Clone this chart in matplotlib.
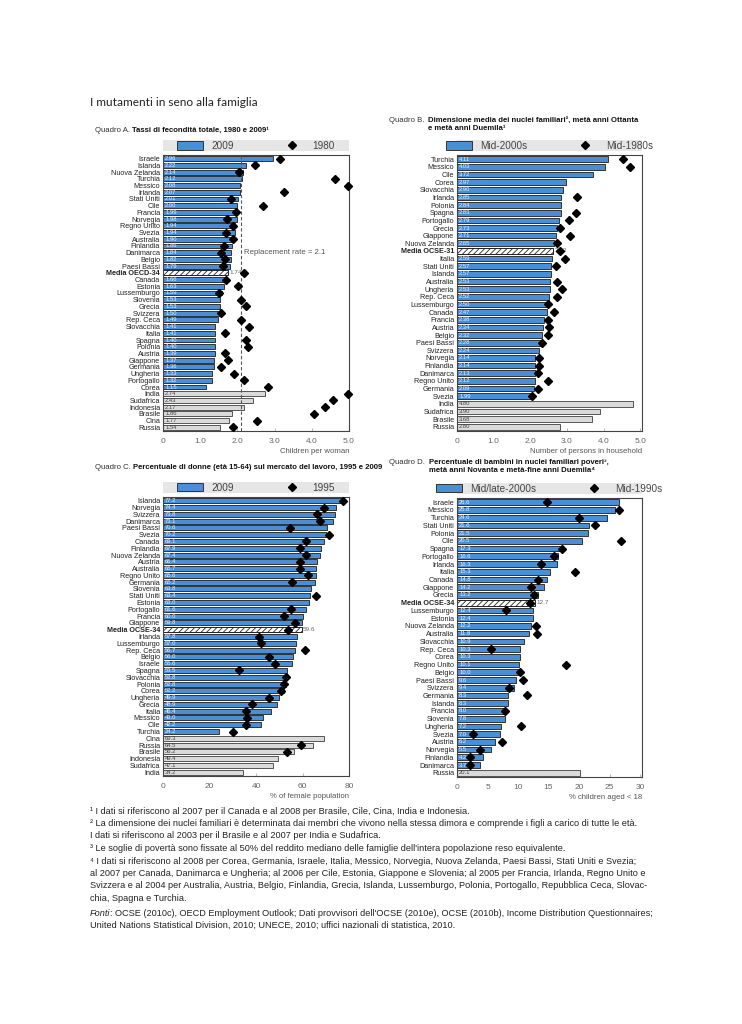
import numpy as np
import matplotlib
matplotlib.use('Agg')
import matplotlib.pyplot as plt
from matplotlib import font_manager as fm
from matplotlib.patches import Patch, Rectangle
from matplotlib.lines import Line2D

names = {f.name for f in fm.fontManager.ttflist}
COND = 'Liberation Sans Narrow' if 'Liberation Sans Narrow' in names else 'Liberation Sans'
plt.rcParams['font.family'] = [COND, 'DejaVu Sans']
plt.rcParams['hatch.linewidth'] = 0.6

# ---------------- Panel A: fertility ----------------
a_countries = ["Israele", "Islanda", "Nuova Zelanda", "Turchia", "Messico", "Irlanda", "Stati Uniti",
               "Cile", "Francia", "Norvegia", "Regno Unito", "Svezia", "Australia", "Finlandia",
               "Danimarca", "Belgio", "Paesi Bassi", "Media OECD-34", "Canada", "Estonia",
               "Lussemburgo", "Slovenia", "Grecia", "Svizzera", "Rep. Ceca", "Slovacchia", "Italia",
               "Spagna", "Polonia", "Austria", "Giappone", "Germania", "Ungheria", "Portogallo",
               "Corea", "India", "Sudafrica", "Indonesia", "Brasile", "Cina", "Russia"]
a_2009 = [2.96, 2.22, 2.14, 2.12, 2.08, 2.07, 2.01, 2.00, 1.99, 1.98, 1.94, 1.94, 1.90, 1.86,
          1.84, 1.82, 1.79, 1.74, 1.66, 1.63, 1.59, 1.53, 1.53, 1.50, 1.49, 1.41, 1.41,
          1.40, 1.40, 1.39, 1.37, 1.36, 1.33, 1.32, 1.15, 2.74, 2.43, 2.17, 1.86, 1.77, 1.54]
a_1980 = [3.14, 2.48, 2.03, 4.62, 4.97, 3.25, 1.84, 2.69, 1.95, 1.73, 1.89, 1.69, 1.89, 1.63,
          1.55, 1.68, 1.60, 2.19, 1.69, 2.02, 1.50, 2.10, 2.23, 1.55, 2.10, 2.32, 1.66,
          2.22, 2.28, 1.66, 1.75, 1.56, 1.92, 2.19, 2.82, 4.97, 4.57, 4.35, 4.06, 2.54, 1.89]
a_avg = "Media OECD-34"
a_emerging = ["India", "Sudafrica", "Indonesia", "Brasile", "Cina", "Russia"]
a_ticks = [0, 1, 2, 3, 4, 5]
a_ticklabels = ["0", "1.0", "2.0", "3.0", "4.0", "5.0"]
a_replacement = 2.1

# ---------------- Panel B: household size ----------------
b_countries = ["Turchia", "Messico", "Cile", "Corea", "Slovacchia", "Irlanda", "Polonia", "Spagna",
               "Portogallo", "Grecia", "Giappone", "Nuova Zelanda", "Media OCSE-31", "Italia",
               "Stati Uniti", "Islanda", "Australia", "Ungheria", "Rep. Ceca", "Lussemburgo",
               "Canada", "Francia", "Austria", "Belgio", "Paesi Bassi", "Svizzera", "Norvegia",
               "Finlandia", "Danimarca", "Regno Unito", "Germania", "Svezia", "India", "Sudafrica",
               "Brasile", "Russia"]
b_2000s = [4.11, 4.03, 3.72, 2.97, 2.90, 2.85, 2.84, 2.83, 2.79, 2.73, 2.71, 2.65, 2.63, 2.59,
           2.57, 2.57, 2.53, 2.53, 2.52, 2.50, 2.47, 2.38, 2.34, 2.32, 2.28, 2.24, 2.14, 2.14,
           2.13, 2.12, 2.09, 1.99, 4.80, 3.90, 3.68, 2.80]
b_1980s = [4.52, 4.71, None, None, None, 3.27, None, 3.25, 3.06, 2.81, 3.09, 2.74, 2.81, 2.94,
           2.70, None, 2.73, 2.87, 2.72, 2.48, 2.66, 2.49, 2.51, 2.49, 2.33, None, 2.23, 2.24,
           2.21, 2.49, 2.22, 2.06, None, None, None, None]
b_avg = "Media OCSE-31"
b_emerging = ["India", "Sudafrica", "Brasile", "Russia"]

# ---------------- Panel C: women in labour force ----------------
c_countries = ["Islanda", "Norvegia", "Svizzera", "Danimarca", "Paesi Bassi", "Svezia", "Canada",
               "Finlandia", "Nuova Zelanda", "Austria", "Australia", "Regno Unito", "Germania",
               "Slovenia", "Stati Uniti", "Estonia", "Portogallo", "Francia", "Giappone",
               "Media OCSE-34", "Irlanda", "Lussemburgo", "Rep. Ceca", "Belgio", "Israele",
               "Spagna", "Slovacchia", "Polonia", "Corea", "Ungheria", "Grecia", "Italia",
               "Messico", "Cile", "Turchia", "Cina", "Russia", "Brasile", "Indonesia", "Sudafrica",
               "India"]
c_2009 = [77.2, 74.4, 73.8, 73.1, 70.6, 70.2, 69.1, 67.9, 67.4, 66.4, 65.7, 65.6, 65.2, 63.8,
          63.4, 63.0, 61.6, 60.0, 59.8, 59.6, 57.8, 57.0, 56.7, 56.0, 55.6, 53.5, 52.8, 52.8,
          52.2, 49.9, 48.9, 46.4, 43.0, 42.2, 24.2, 69.3, 64.5, 56.2, 49.4, 47.1, 34.2]
c_1995 = [77.5, 69.3, 66.2, 67.5, 54.6, 71.5, 61.6, 59.1, 61.3, 59.0, 59.1, 62.4, 55.5, None,
          65.8, None, 54.9, 51.9, 56.6, 53.8, 41.4, 42.2, 61.0, 45.4, 48.3, 32.7, 53.0, 51.9,
          50.6, 45.8, 38.2, 35.6, 36.1, 35.6, 30.3, None, 59.5, 53.2, None, None, None]
c_avg = "Media OCSE-34"
c_emerging = ["Cina", "Russia", "Brasile", "Indonesia", "Sudafrica", "India"]

# ---------------- Panel D: child poverty ----------------
d_countries = ["Israele", "Messico", "Turchia", "Stati Uniti", "Polonia", "Cile", "Spagna",
               "Portogallo", "Irlanda", "Italia", "Canada", "Giappone", "Grecia", "Media OCSE-34",
               "Lussemburgo", "Estonia", "Nuova Zelanda", "Australia", "Slovacchia", "Rep. Ceca",
               "Corea", "Regno Unito", "Belgio", "Paesi Bassi", "Svizzera", "Germania", "Islanda",
               "Francia", "Slovenia", "Ungheria", "Svezia", "Austria", "Norvegia", "Finlandia",
               "Danimarca", "Russia"]
d_2000s = [26.6, 25.8, 24.6, 21.6, 21.5, 20.5, 17.3, 16.6, 16.3, 15.3, 14.8, 14.2, 13.2, 12.7,
           12.4, 12.4, 12.2, 11.8, 10.9, 10.3, 10.3, 10.1, 10.0, 9.6, 9.4, 8.3, 8.3, 8.0, 7.8,
           7.2, 7.0, 6.2, 5.5, 4.2, 3.7, 20.1]
d_1990s = [14.8, 26.5, 20.0, 22.6, None, 26.9, 17.2, 15.9, 13.7, 19.3, 13.2, 12.2, 12.6, 11.9,
           8.1, None, 13.0, 13.1, None, 5.6, None, 17.8, 10.3, 10.8, 8.5, 11.5, None, 7.9, None,
           10.5, 2.6, 7.4, 3.8, 2.2, 2.1, None]
d_avg = "Media OCSE-34"
d_emerging = ["Russia"]

W, H = 742, 1024
fig = plt.figure(figsize=(W / 100, H / 100), dpi=100)

BLUE = '#4a8fd6'
GRAYBAR = '#dadada'
MS = 3.7


def rect(l, t, r, b):
    return [l / W, 1 - b / H, (r - l) / W, (b - t) / H]


def panel(box, countries, vals, marks, avg, emerging, xmax, ticks, ticklabels, xlabel,
          leg_labels, fmt, avg_fmt):
    ax = fig.add_axes(rect(*box))
    n = len(countries)
    y = np.arange(n)
    for i, (c, v) in enumerate(zip(countries, vals)):
        if c == avg:
            ax.barh(i, v, height=0.74, facecolor='white', edgecolor='#222222', hatch='//////',
                    linewidth=0.7, zorder=2)
            ax.text(v + xmax * 0.008, i, avg_fmt.format(v), va='center', ha='left',
                    fontsize=4.6, color='#666666', zorder=4)
        elif c in emerging:
            ax.barh(i, v, height=0.74, facecolor=GRAYBAR, edgecolor='#555555', linewidth=0.7,
                    zorder=2)
            ax.text(xmax * 0.012, i, fmt.format(v), va='center', ha='left', fontsize=4.2,
                    color='#444444', zorder=4)
        else:
            ax.barh(i, v, height=0.74, facecolor=BLUE, edgecolor='#333333', linewidth=0.7,
                    zorder=2)
            ax.text(xmax * 0.012, i, fmt.format(v), va='center', ha='left', fontsize=4.2,
                    color='#e8f0ff', zorder=4)
    mx = [m if m is not None else np.nan for m in marks]
    ax.plot(mx, y, linestyle='none', marker='D', color='black', markersize=MS, zorder=5,
            clip_on=False)
    ax.set_ylim(n - 0.45, -0.55)
    ax.set_xlim(0, xmax)
    ax.set_yticks(y)
    ax.set_yticklabels(countries, fontsize=5.2, color='#222222')
    for lab in ax.get_yticklabels():
        if lab.get_text() == avg:
            lab.set_fontweight('bold')
    ax.tick_params(axis='y', length=0, pad=2)
    ax.set_xticks(ticks)
    ax.set_xticklabels(ticklabels, fontsize=6, color='#666666')
    ax.tick_params(axis='x', direction='in', length=2.5, color='#bbbbbb', pad=5)
    for s in ax.spines.values():
        s.set_color('#444444')
        s.set_linewidth(0.8)
    ax.set_xlabel(xlabel, fontsize=5.6, color='#555555', loc='right', labelpad=2)
    # legend band
    ax.add_patch(Rectangle((0, 1.013), 1.0, 0.04, transform=ax.transAxes, clip_on=False,
                           facecolor='#e6e6e6', edgecolor='none', zorder=1))
    handles = [Patch(facecolor=BLUE, edgecolor='#333333', linewidth=0.7),
               Line2D([], [], linestyle='none', marker='D', color='black', markersize=MS)]
    ax.legend(handles, leg_labels, ncol=2, loc='center', bbox_to_anchor=(0.5, 1.033),
              frameon=False, fontsize=7.2, handlelength=2.6, handleheight=0.9,
              columnspacing=4.5, handletextpad=0.8, borderaxespad=0, labelcolor='#444444')
    return ax


axA = panel((163, 155, 349, 431), a_countries, a_2009, a_1980, a_avg, a_emerging, 5.0,
            a_ticks, a_ticklabels, "Children per woman", ["2009", "1980"], "{:.2f}", "{:.2f}")
axA.axvline(a_replacement, color='#555555', linestyle=(0, (3, 2)), linewidth=0.8, zorder=3)
axA.text(a_replacement + 0.07, a_countries.index("Danimarca"), "Replacement rate = 2.1",
         fontsize=5.6, color='#555555', va='center', ha='left', zorder=4)

axB = panel((457, 155, 642, 431), b_countries, b_2000s, b_1980s, b_avg, b_emerging, 5.05,
            a_ticks, a_ticklabels, "Number of persons in household",
            ["Mid-2000s", "Mid-1980s"], "{:.2f}", "{:.2f}")

axC = panel((163, 497, 349, 776), c_countries, c_2009, c_1995, c_avg, c_emerging, 80,
            [0, 20, 40, 60, 80], ["0", "20", "40", "60", "80"], "% of female population",
            ["2009", "1995"], "{:.1f}", "{:.1f}")

axD = panel((457, 498, 642, 777), d_countries, d_2000s, d_1990s, d_avg, d_emerging, 30.3,
            [0, 5, 10, 15, 20, 25, 30], ["0", "5", "10", "15", "20", "25", "30"],
            "% children aged < 18", ["Mid/late-2000s", "Mid-1990s"], "{:.1f}", "{:.1f}")

# ---------------- texts ----------------
renderer = fig.canvas.get_renderer()


def heading(x, y, prefix, bold, gap=2):
    t = fig.text(x / W, 1 - y / H, prefix, fontsize=5.6, color='#333333', va='top', ha='left')
    bb = t.get_window_extent(renderer=renderer)
    fig.text((bb.x1 + gap) / W, 1 - y / H, bold, fontsize=5.6, color='#111111',
             fontweight='bold', va='top', ha='left', linespacing=1.25)


fig.text(90 / W, 1 - 103 / H, "I mutamenti in seno alla famiglia", fontsize=8.6,
         family=['Lato', 'DejaVu Sans'], color='#222222', va='center', ha='left')

heading(95, 127, "Quadro A.", "Tassi di fecondità totale, 1980 e 2009¹")
heading(389, 117, "Quadro B.", "Dimensione media dei nuclei familiari², metà anni Ottanta\ne metà anni Duemila¹", gap=4)
heading(95, 464, "Quadro C.", "Percentuale di donne (età 15-64) sul mercato del lavoro, 1995 e 2009")
heading(389, 459, "Quadro D.", "Percentuale di bambini in nuclei familiari poveri³,\nmetà anni Novanta e metà-fine anni Duemila⁴", gap=4)

foot = [
    (811, "¹ I dati si riferiscono al 2007 per il Canada e al 2008 per Brasile, Cile, Cina, India e Indonesia."),
    (823.5, "² La dimensione dei nuclei familiari è determinata dai membri che vivono nella stessa dimora e comprende i figli a carico di tutte le età."),
    (836, "I dati si riferiscono al 2003 per il Brasile e al 2007 per India e Sudafrica."),
    (848.5, "³ Le soglie di povertà sono fissate al 50% del reddito mediano delle famiglie dell'intera popolazione reso equivalente."),
    (861, "⁴ I dati si riferiscono al 2008 per Corea, Germania, Israele, Italia, Messico, Norvegia, Nuova Zelanda, Paesi Bassi, Stati Uniti e Svezia;"),
    (873.5, "al 2007 per Canada, Danimarca e Ungheria; al 2006 per Cile, Estonia, Giappone e Slovenia; al 2005 per Francia, Irlanda, Regno Unito e"),
    (886, "Svizzera e al 2004 per Australia, Austria, Belgio, Finlandia, Grecia, Islanda, Lussemburgo, Polonia, Portogallo, Repubblica Ceca, Slovac-"),
    (898.5, "chia, Spagna e Turchia."),
]
FOOT_FS = 6.55
for yy, s in foot:
    fig.text(90 / W, 1 - yy / H, s, fontsize=FOOT_FS, color='#222222', va='center', ha='left')

t1 = fig.text(90 / W, 1 - 913 / H, "Fonti", fontsize=FOOT_FS, style='italic', color='#222222',
              va='center', ha='left')
bb = t1.get_window_extent(renderer=renderer)
fig.text(bb.x1 / W, 1 - 913 / H,
         ": OCSE (2010c), OECD Employment Outlook; Dati provvisori dell'OCSE (2010e), OCSE (2010b), Income Distribution Questionnaires;",
         fontsize=FOOT_FS, color='#222222', va='center', ha='left')
fig.text(90 / W, 1 - 925.5 / H,
         "United Nations Statistical Division, 2010; UNECE, 2010; uffici nazionali di statistica, 2010.",
         fontsize=FOOT_FS, color='#222222', va='center', ha='left')

fig.savefig('out.png', dpi=100, facecolor='white')
